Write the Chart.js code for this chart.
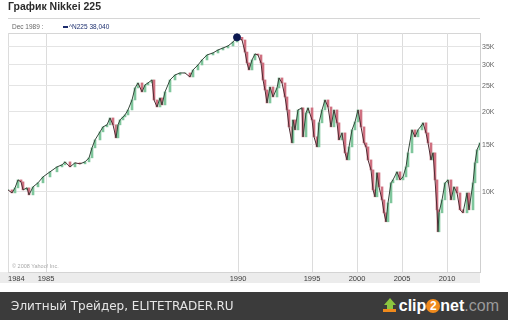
<!DOCTYPE html>
<html>
<head>
<meta charset="utf-8">
<script src="https://cdn.jsdelivr.net/npm/chart.js@4/dist/chart.umd.min.js"></script>
<style>
  body { margin: 0; background: #fff; }
  #wrap { position: relative; width: 508px; height: 320px; overflow: hidden; font-family: "Liberation Sans", Arial, sans-serif; }
  #chart { position: absolute; left: 0; top: 0; }
  .title { position: absolute; left: 8px; top: 0; font-size: 10.5px; line-height: 12px; font-weight: bold; color: #2b2b2b; }
  .info { position: absolute; top: 23px; font-size: 6.5px; line-height: 8px; }
  .dash { position: absolute; left: 63px; top: 26px; width: 5px; height: 2px; background: #1c2c6c; }
  .copy { position: absolute; left: 12px; top: 263px; font-size: 5.5px; color: #a8a8a8; }
  .footer { position: absolute; left: 0; top: 292px; width: 508px; height: 28px; background: #3b3b3b; }
  .footer .txt { position: absolute; left: 11px; top: 0; line-height: 28px; font-family: "DejaVu Sans", sans-serif; font-size: 12px; color: #e6e6e6; }
  .logo { position: absolute; right: 9px; top: 5px; font-family: "Liberation Sans", Arial, sans-serif; font-size: 16px; line-height: 18px; white-space: nowrap; }
  .logo b { color: #fff; }
  .logo .two { display: inline-block; width: 14px; height: 14px; border-radius: 7px; background: #f08a1c; color: #fff; font-weight: bold; font-size: 12px; line-height: 14px; text-align: center; vertical-align: 1px; }
  .logo .com { color: #9a9a9a; }
  .arrow { display: inline-block; position: relative; width: 14px; height: 14px; margin-right: 2px; vertical-align: -1px; }
  .arrow .tri { position: absolute; left: 1px; top: 0; width: 0; height: 0; border-left: 6px solid transparent; border-right: 6px solid transparent; border-bottom: 7px solid #8cc63f; }
  .arrow .stem { position: absolute; left: 4px; top: 7px; width: 6px; height: 4px; background: #8cc63f; }
  .arrow .bar { position: absolute; left: 0; top: 11px; width: 13px; height: 3px; background: #f08a1c; }
</style>
</head>
<body>
<div id="wrap">
  <canvas id="chart" width="508" height="292"></canvas>
  <div class="title">График Nikkei 225</div>
  <div class="info" style="left:12px;color:#666;">Dec 1989 :</div>
  <div class="dash"></div>
  <div class="info" style="left:69px;color:#1d2f6f;">^N225 38,040</div>
  <div class="copy">© 2008 Yahoo! Inc.</div>
  <div class="footer">
    <div class="txt">Элитный Трейдер, ELITETRADER.RU</div>
    <div class="logo"><span class="arrow"><span class="tri"></span><span class="stem"></span><span class="bar"></span></span><b>clip</b><span class="two">2</span><b>net</b><span class="com">.com</span></div>
  </div>
</div>
<script>
// sample index along the chart (one unit per plotted bar) and close values
const sampleIdx = [
  0, 4, 7, 10, 13, 15, 19, 21, 25, 30, 35, 42, 49, 54, 57, 62, 67, 72, 77, 81,
  84, 87, 92, 95, 99, 102, 105, 108, 110, 112, 115, 117, 120, 124, 127, 130, 134, 137, 140, 144,
  146, 149, 152, 154, 157, 162, 167, 172, 177, 182, 185, 190, 194, 199, 205, 210, 215, 220, 225, 229,
  234, 237, 239, 241, 244, 247, 250, 253, 255, 257, 259, 262, 265, 269, 271, 274, 277, 279, 281, 284,
  285, 287, 290, 294, 295, 298, 300, 304, 306, 309, 311, 314, 317, 320, 323, 326, 329, 331, 334, 337,
  339, 341, 344, 347, 350, 353, 356, 358, 360, 363, 365, 367, 369, 371, 374, 376, 378, 380, 383, 385,
  389, 392, 395, 398, 400, 404, 407, 410, 414, 415, 418, 420, 423, 425, 427, 429, 430, 431, 434, 437,
  440, 443, 446, 449, 452, 455, 459, 461, 465, 467, 469, 472
];
const closes = [
  10170, 9910, 10350, 11090, 10900, 10170, 10350, 9740, 10440, 10810, 11380, 11890, 12410, 12630, 12960, 12410, 12850, 12740, 12960, 13420,
  14630, 15670, 16800, 17540, 17850, 18950, 17850, 15950, 17850, 18630, 19120, 19450, 20310, 22140, 24560, 25650, 23730, 25210, 25650, 26320,
  22140, 20840, 22530, 21210, 23730, 26320, 27480, 27960, 27960, 27010, 28700, 29960, 31290, 32670, 33240, 34110, 34700, 35310, 36550, 38040,
  37190, 33500, 30490, 28700, 31290, 32950, 32670, 30490, 26320, 24140, 21570, 24770, 22720, 24560, 26780, 25650, 22720, 20310, 17540, 15270,
  18630, 17090, 20310, 20670, 16090, 19790, 20670, 18630, 16090, 14750, 18160, 20310, 22140, 20840, 17540, 20310, 18160, 15670, 16650, 14010,
  13180, 14750, 17090, 18310, 20310, 17540, 15270, 14750, 13180, 12090, 10170, 9580, 11790, 10440, 9330, 8340, 7720, 9090, 10810, 11090,
  11890, 11090, 11380, 12410, 14010, 17090, 16090, 17090, 17850, 18160, 16650, 15270, 13180, 14010, 11090, 8560, 7080, 8340, 9330, 10810,
  11090, 9330, 10440, 9910, 8560, 8340, 9910, 8560, 10810, 12850, 14380, 15270
];

const peakIdx = 229;
const peakValue = 38040;

const yearLabels = ['1984', '1985', '1990', '1995', '2000', '2005', '2010', ''];
const yearIdx = [0, 38, 230, 304, 349, 394, 439, 472];
const priceTicks = [10000, 15000, 20000, 25000, 30000, 35000];

const upLine = '#34463a', downLine = '#4e2a32';
const upBody = '#7fc69c', downBody = '#cf7080';

const linePts = sampleIdx.map((x, i) => ({ x: x, y: closes[i] }));
const bodies = sampleIdx.map((x, i) => {
  const prev = i ? closes[i - 1] : closes[i];
  return { x: x, y: [Math.min(prev, closes[i]), Math.max(prev, closes[i])] };
});
const isUp = i => i === 0 || closes[i] >= closes[i - 1];

const bandPlugin = {
  id: 'band',
  beforeDraw(chart) {
    const { ctx, chartArea } = chart;
    ctx.save();
    ctx.fillStyle = '#ececec';
    ctx.fillRect(0, chartArea.bottom, chartArea.right, 11);
    ctx.strokeStyle = '#d6d6d6';
    ctx.lineWidth = 1;
    ctx.beginPath();
    ctx.moveTo(chartArea.left, chartArea.top + 0.5);
    ctx.lineTo(chartArea.right, chartArea.top + 0.5);
    ctx.moveTo(chartArea.left, 18.5);
    ctx.lineTo(chartArea.right, 18.5);
    ctx.stroke();
    ctx.restore();
  }
};

new Chart(document.getElementById('chart'), {
  type: 'line',
  data: {
    datasets: [
      {
        type: 'scatter',
        data: [{ x: peakIdx, y: peakValue }],
        pointRadius: 3.5,
        backgroundColor: '#0b1850',
        borderColor: '#0b1850',
        order: 0
      },
      {
        type: 'line',
        data: linePts,
        borderWidth: 1,
        borderColor: upLine,
        segment: {
          borderColor: c => c.p1.parsed.y >= c.p0.parsed.y ? upLine : downLine
        },
        pointRadius: 0,
        tension: 0,
        order: 1
      },
      {
        type: 'bar',
        data: bodies,
        barThickness: 2,
        backgroundColor: c => isUp(c.dataIndex) ? upBody : downBody,
        order: 2
      }
    ]
  },
  options: {
    responsive: false,
    animation: false,
    layout: { padding: { left: 8, top: 33, right: 0, bottom: 0 } },
    plugins: { legend: { display: false }, tooltip: { enabled: false } },
    scales: {
      x: {
        type: 'linear',
        offset: false,
        min: 0,
        max: 472,
        afterBuildTicks: s => { s.ticks = yearIdx.map(v => ({ value: v })); },
        afterFit: s => { s.height = 20; },
        grid: { color: '#dcdcdc', drawTicks: false, offset: false },
        border: { color: '#d4d4d4' },
        ticks: {
          autoSkip: false,
          maxRotation: 0,
          align: 'inner',
          padding: 2,
          color: '#3a3a3a',
          font: { family: 'Liberation Sans', size: 7.5 },
          callback: v => yearLabels[yearIdx.indexOf(v)]
        }
      },
      y: {
        type: 'logarithmic',
        position: 'right',
        min: 5000,
        max: 39500,
        afterBuildTicks: s => { s.ticks = priceTicks.map(v => ({ value: v })); },
        afterFit: s => { s.width = 28; },
        grid: { color: '#e4e4e4', drawTicks: false },
        border: { color: '#cfcfcf' },
        ticks: {
          autoSkip: false,
          padding: 2,
          color: '#666',
          font: { family: 'Liberation Sans', size: 7 },
          callback: v => (v / 1000) + 'K'
        }
      }
    }
  },
  plugins: [bandPlugin]
});
</script>
</body>
</html>
